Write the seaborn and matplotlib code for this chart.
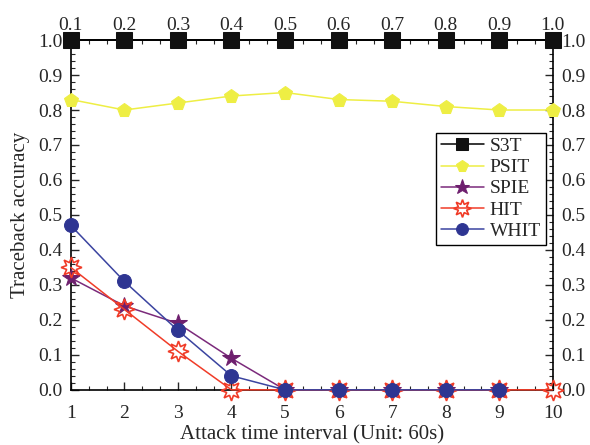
import numpy as np
import pandas as pd
import matplotlib
matplotlib.use("Agg")
import matplotlib.pyplot as plt
import seaborn as sns
from matplotlib.ticker import MultipleLocator

# Attack time intervals (units of 60 s) and the matching top-axis labels
intervals = [1, 2, 3, 4, 5, 6, 7, 8, 9, 10]
top_labels = ["0.1", "0.2", "0.3", "0.4", "0.5", "0.6", "0.7", "0.8", "0.9", "1.0"]

# Traceback accuracy per scheme
s3t = [1.0, 1.0, 1.0, 1.0, 1.0, 1.0, 1.0, 1.0, 1.0, 1.0]
psit = [0.83, 0.80, 0.82, 0.84, 0.85, 0.83, 0.825, 0.81, 0.80, 0.80]
spie = [0.32, 0.24, 0.19, 0.09, 0.0, 0.0, 0.0, 0.0, 0.0]
hit = [0.35, 0.23, 0.11, 0.0, 0.0, 0.0, 0.0, 0.0, 0.0, 0.0]
whit = [0.47, 0.31, 0.17, 0.04, 0.0, 0.0, 0.0, 0.0, 0.0]

sns.set_theme(style="ticks")
plt.rcParams["font.family"] = ["Liberation Serif", "DejaVu Serif"]

fig = plt.figure(figsize=(5.9, 4.45), dpi=100)
ax = fig.add_axes([0.120, 0.124, 0.817, 0.786])

series = [
    ("S3T", s3t, dict(color="black", marker="s", markersize=11, markerfacecolor="#111111",
                      markeredgecolor="#111111")),
    ("PSIT", psit, dict(color="#eeee44", marker="p", markersize=10, markerfacecolor="#eeee44",
                        markeredgecolor="#eeee44")),
    ("SPIE", spie, dict(color="#7b2a7b", marker="*", markersize=13, markerfacecolor="#6e1f6e",
                        markeredgecolor="#6e1f6e")),
    ("HIT", hit, dict(color="#f03c28", marker=(8, 1, 0), markersize=15, markerfacecolor="none",
                      markeredgecolor="#f03c28", markeredgewidth=1.2)),
    ("WHIT", whit, dict(color="#3b44a0", marker="o", markersize=10, markerfacecolor="#2e3592",
                        markeredgecolor="#2e3592")),
]

for name, vals, kw in series:
    df = pd.DataFrame({"interval": intervals[:len(vals)], "accuracy": vals})
    sns.lineplot(data=df, x="interval", y="accuracy", ax=ax, label=name,
                 linewidth=1.1, clip_on=False, zorder=5, **kw)

ax.set_xlim(1, 10)
ax.set_ylim(0, 1.0)
ax.xaxis.set_major_locator(MultipleLocator(1))
ax.xaxis.set_minor_locator(MultipleLocator(1 / 3))
ax.yaxis.set_major_locator(MultipleLocator(0.1))
ax.yaxis.set_minor_locator(MultipleLocator(0.02))
ax.yaxis.set_major_formatter(matplotlib.ticker.FormatStrFormatter("%.1f"))

ax.tick_params(which="major", direction="in", length=6, width=1.0, labelsize=14,
               top=True, right=True, labelright=True, pad=6)
ax.tick_params(axis="x", which="major", pad=11)
ax.tick_params(which="minor", direction="in", length=3, width=0.8,
               top=True, right=True)
for sp in ax.spines.values():
    sp.set_linewidth(1.2)
    sp.set_color("black")

# Top axis carries the proportional time labels
ax_top = ax.secondary_xaxis("top")
ax_top.set_xticks(intervals)
ax_top.set_xticklabels(top_labels)
ax_top.tick_params(direction="in", length=0, labelsize=14, pad=4)

ax.set_xlabel("Attack time interval (Unit: 60s)", fontsize=15, labelpad=2)
ax.set_ylabel("Traceback accuracy", fontsize=15, labelpad=6)

leg = ax.legend(loc="upper right", bbox_to_anchor=(0.985, 0.735), fontsize=14,
                frameon=True, fancybox=False, edgecolor="black", framealpha=1,
                handlelength=2.2, handletextpad=0.3, borderpad=0.25, labelspacing=0.18,
                markerscale=0.85, borderaxespad=0)
leg.get_frame().set_linewidth(1.0)

fig.savefig("out.png", dpi=100, facecolor="white")
